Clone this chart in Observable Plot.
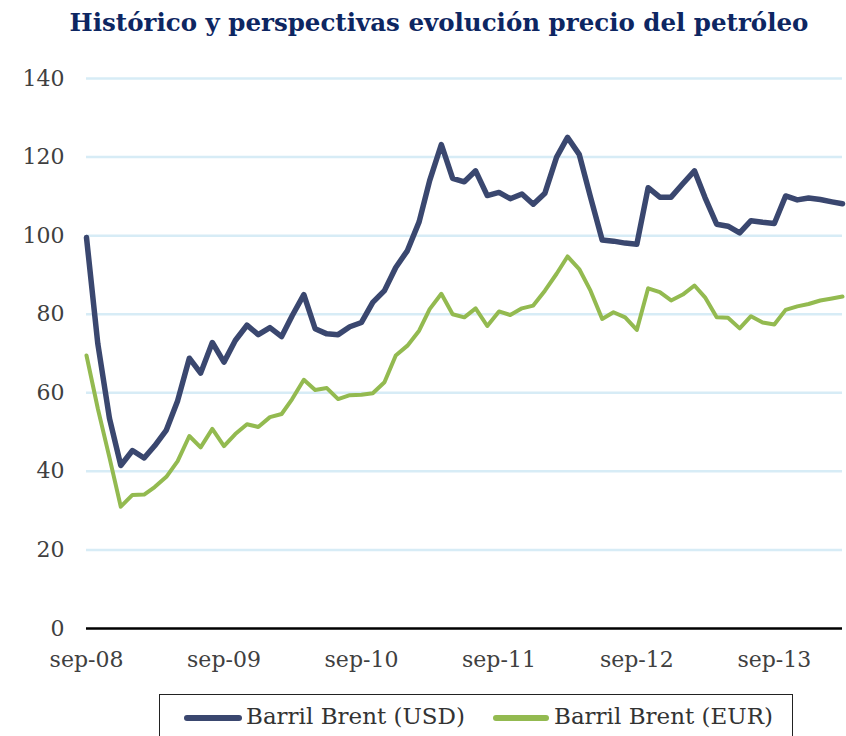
<!DOCTYPE html>
<html>
<head>
<meta charset="utf-8">
<script src="https://cdn.jsdelivr.net/npm/d3@7"></script>
<script src="https://cdn.jsdelivr.net/npm/@observablehq/plot@0.6"></script>
<style>
  html, body { margin: 0; padding: 0; background: #fff; }
  #wrap { position: relative; width: 846px; height: 736px; overflow: hidden; }
  #title { position: absolute; left: 16px; top: 11px; width: 846px; text-align: center;
    font-family: "DejaVu Serif", serif; font-weight: bold; font-size: 24.5px; line-height: 1; color: #0d2662; }
  #chart { position: absolute; left: 0; top: 45px; }
  #legend { position: absolute; left: 159px; top: 694px; width: 634px; height: 60px;
    border: 1.5px solid #222; box-sizing: border-box; }
  .sw { position: absolute; top: 20px; height: 6px; border-radius: 3px; }
  .lt { position: absolute; top: 10px; font-family: "DejaVu Serif", serif; font-size: 23px; line-height: 1; color: #333; white-space: nowrap; }
</style>
</head>
<body>
<div id="wrap">
  <div id="title">Histórico y perspectivas evolución precio del petróleo</div>
  <div id="chart"></div>
  <div id="legend"></div>
</div>
<script>
// ---- data ----
const seriesNames = ["Barril Brent (USD)", "Barril Brent (EUR)"];
const seriesColors = ["#3a476f", "#93ba50"];
const startMonth = "2008-09-01";
const usd = [99.5, 72.5, 53.5, 41.5, 45.3, 43.4, 46.5, 50.5, 58, 68.8, 65, 72.8, 67.8, 73.3, 77.2, 74.8, 76.6, 74.3, 79.6, 85,
  76.3, 75, 74.8, 76.8, 77.9, 83, 86, 91.9, 96.2, 103.5, 114, 123.2, 114.6, 113.7, 116.5, 110.2, 111, 109.4, 110.6, 108,
  110.8, 120, 125, 120.7, 109.8, 98.9, 98.6, 98.1, 97.8, 112.2, 109.8, 109.8, 113.2, 116.5, 109.7, 102.9, 102.4, 100.7, 103.8, 103.4,
  103.1, 110.1, 109.1, 109.6, 109.2, 108.6, 108.1];
const eur = [69.5, 56, 43.5, 31, 34, 34.1, 36, 38.6, 42.6, 49, 46.1, 50.8, 46.4, 49.5, 52, 51.3, 53.8, 54.6, 58.4, 63.3,
  60.7, 61.2, 58.4, 59.4, 59.5, 59.9, 62.7, 69.5, 72, 75.8, 81.3, 85.2, 80, 79.2, 81.5, 77, 80.7, 79.8, 81.5, 82.2,
  86, 90.3, 94.7, 91.5, 86, 78.8, 80.5, 79.2, 76, 86.6, 85.6, 83.5, 85, 87.3, 84.3, 79.2, 79.1, 76.4, 79.5, 77.9,
  77.4, 81.1, 82, 82.6, 83.5, 84, 84.5];
const xTickLabels = ["sep-08", "sep-09", "sep-10", "sep-11", "sep-12", "sep-13"];
const yTicks = [0, 20, 40, 60, 80, 100, 120, 140];

// ---- build ----
const start = new Date(startMonth);
const months = usd.map((_, i) => d3.utcMonth.offset(start, i));
const rows = [];
[usd, eur].forEach((vals, s) => vals.forEach((v, i) => rows.push({date: months[i], value: v, series: seriesNames[s]})));
const xTickDates = xTickLabels.map((_, i) => d3.utcMonth.offset(start, 12 * i));
const labelOf = new Map(xTickDates.map((d, i) => [+d, xTickLabels[i]]));

const chart = Plot.plot({
  width: 846,
  height: 650,
  marginLeft: 86,
  marginRight: 4,
  marginTop: 33,
  marginBottom: 67,
  style: {fontFamily: "DejaVu Serif", fontSize: "22px", color: "#404040", background: "transparent"},
  x: {type: "utc", domain: [months[0], months[months.length - 1]]},
  y: {domain: [0, 140]},
  color: {domain: seriesNames, range: seriesColors},
  marks: [
    Plot.ruleY(yTicks.filter(d => d > 0), {stroke: "#d7ecf6", strokeWidth: 2.5}),
    Plot.axisY(yTicks, {tickSize: 0, tickPadding: 22, tickFormat: d => String(d), fill: "#404040", label: null}),
    Plot.axisX(xTickDates, {tickSize: 0, tickPadding: 23, tickFormat: d => labelOf.get(+d), fill: "#404040", label: null}),
    Plot.line(rows.filter(r => r.series === seriesNames[1]), {x: "date", y: "value", stroke: "series", strokeWidth: 4, strokeLinejoin: "round", strokeLinecap: "round"}),
    Plot.line(rows.filter(r => r.series === seriesNames[0]), {x: "date", y: "value", stroke: "series", strokeWidth: 5.5, strokeLinejoin: "round", strokeLinecap: "round"}),
    Plot.ruleY([0], {stroke: "#000", strokeWidth: 2.5})
  ]
});
document.getElementById("chart").appendChild(chart);

// legend
const legend = document.getElementById("legend");
const swX = [24, 333];
const swW = [58, 56];
const txX = [86, 394];
seriesNames.forEach((name, i) => {
  const sw = document.createElement("div");
  sw.className = "sw";
  sw.style.left = swX[i] + "px";
  sw.style.width = swW[i] + "px";
  sw.style.background = seriesColors[i];
  legend.appendChild(sw);
  const t = document.createElement("div");
  t.className = "lt";
  t.style.left = txX[i] + "px";
  t.textContent = name;
  legend.appendChild(t);
});
</script>
</body>
</html>
